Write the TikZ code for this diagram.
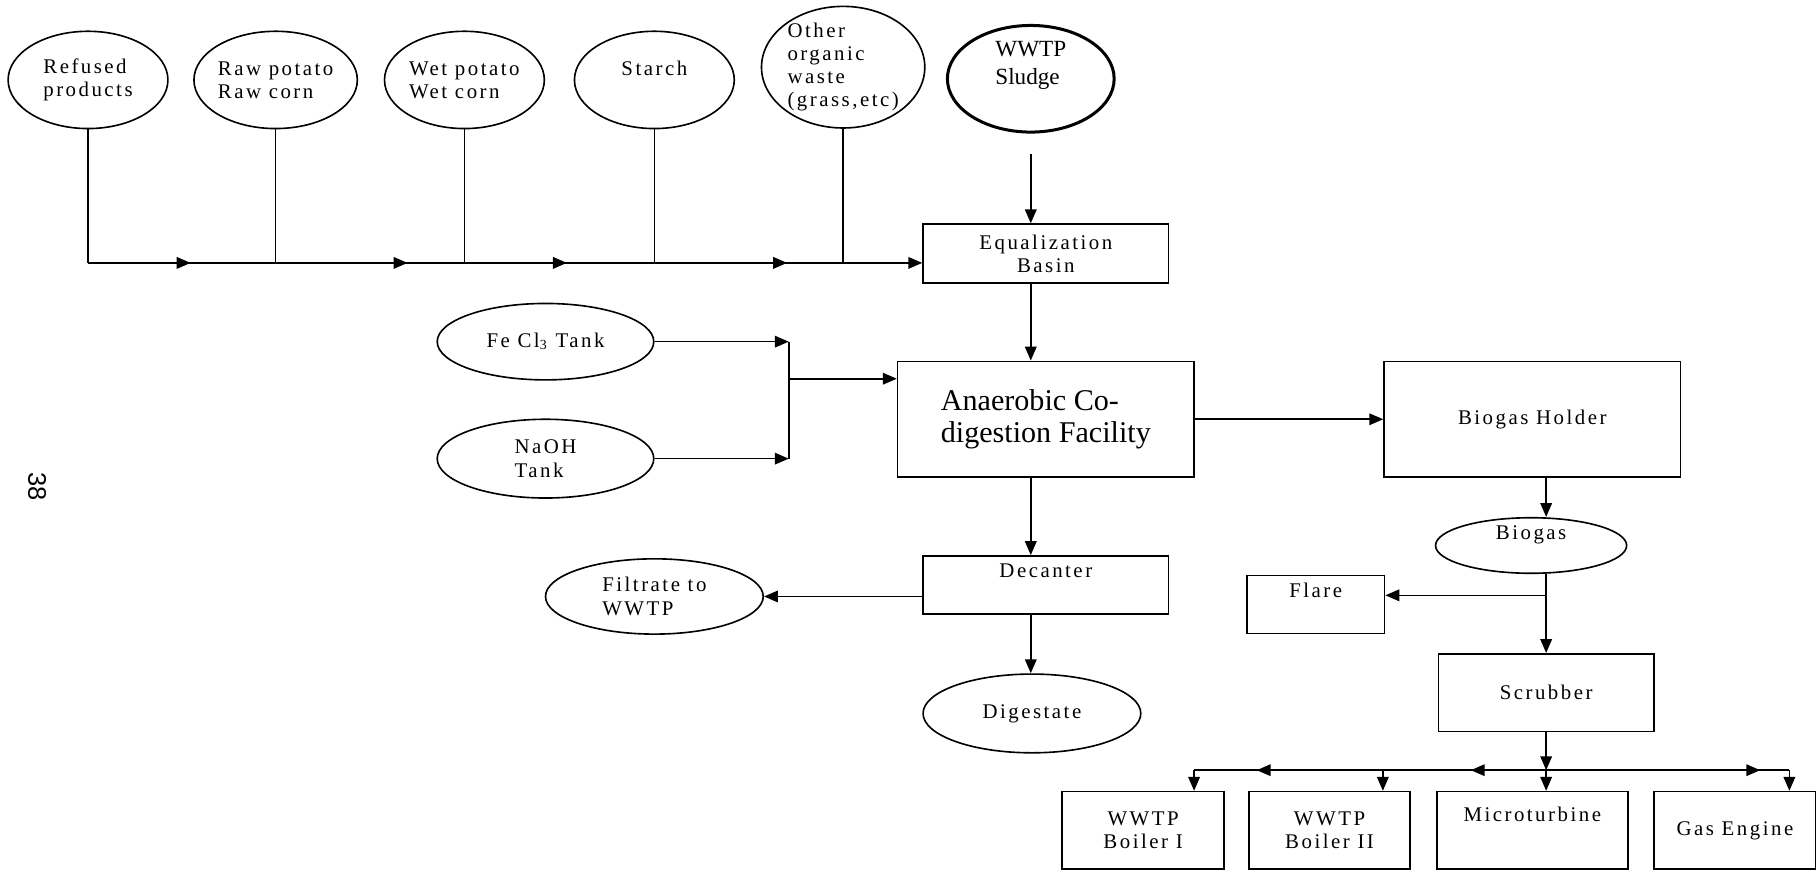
\documentclass[tikz,border=0pt]{standalone}
\usepackage{fontspec}
\setmainfont[LetterSpace=12]{Liberation Serif}
\newfontfamily\plainfont{Liberation Serif}
\newfontfamily\pagefont{Liberation Sans}
\usepackage{tikz}
\usetikzlibrary{shapes.geometric, arrows.meta, decorations.markings}

\tikzset{
  feed/.style={ellipse, draw, line width=0.7pt, minimum width=69pt, minimum height=42pt, inner sep=0pt, align=left},
  unit/.style={rectangle, draw, line width=0.7pt, inner sep=0pt, align=center},
  pipe/.style={line width=0.7pt},
  flow/.style={pipe, -{Triangle[length=6pt,width=5pt]}},
}

\begin{document}
\begin{tikzpicture}[x=0.5pt, y=-0.5pt, font=\fontsize{9}{10}\selectfont]
\useasboundingbox (0,0) rectangle (1568,751);

% feed stocks
\foreach \name/\x/\txt in {refused/76/{Refused\\products}, rawp/238/{Raw potato\\Raw corn}, wetp/401/{Wet potato\\Wet corn}, starch/565/{Starch\\~}}{
\node[feed] (\name) at (\x,69) {\txt};
}
\node[feed, minimum width=70.5pt, minimum height=52.5pt, inner sep=-7pt] (other) at (728,58) {Other\\organic\\waste\\(grass,etc)};
\node[feed, minimum width=72pt, line width=1.3pt, font=\plainfont\fontsize{10}{12}\selectfont] (sludge) at (890,68) {WWTP\\Sludge\\[2pt]~};

% process line
\node[unit, minimum width=106pt, minimum height=25.5pt] (eq) at (903,219) {Equalization\\Basin};
\node[unit, minimum width=128pt, minimum height=50pt, align=left, font=\plainfont\fontsize{13}{14}\selectfont] (acf) at (903,362) {Anaerobic Co-\\digestion Facility};
\node[feed, minimum width=93.5pt, minimum height=33pt] (fecl) at (471,295) {Fe Cl\textsubscript{3} Tank};
\node[feed, minimum width=93.5pt, minimum height=34pt] (naoh) at (471,396) {NaOH\\Tank};
\node[unit, minimum width=106pt, minimum height=25pt] (decanter) at (903,505) {Decanter\\[2pt]~};
\node[feed, minimum width=94pt, minimum height=32.5pt] (filtrate) at (565,515) {Filtrate to\\WWTP};
\node[feed, minimum width=94pt, minimum height=34pt] (digestate) at (891,616) {Digestate};

% gas line
\node[unit, minimum width=128pt, minimum height=50pt] (holder) at (1323,362) {Biogas Holder};
\node[feed, minimum width=82.5pt, minimum height=23.5pt] (biogas) at (1322,471) {Biogas\\[1pt]~};
\node[unit, minimum width=59.5pt, minimum height=25pt] (flare) at (1136,522) {Flare\\[2pt]~};
\node[unit, minimum width=93pt, minimum height=33.5pt] (scrubber) at (1335,598) {Scrubber};
\foreach \name/\x/\w/\txt in {boiler1/987/70/{WWTP\\Boiler I}, boiler2/1148/69.5/{WWTP\\Boiler II}, micro/1323/82.5/{Microturbine\\[4pt]~}, engine/1498/70/{Gas Engine}}{
\node[unit, minimum width=\w pt, minimum height=33.5pt] (\name) at (\x,717) {\txt};
}

\node[font=\pagefont\fontsize{11}{13}\selectfont, rotate=-90] (page) at (32,420) {38};

% feeds to basin
\coordinate (busend) at ([yshift=-4pt]eq.west);
\foreach \name in {refused, rawp, wetp, starch, other}
\draw[pipe] (\name.south) -- (\name.south |- busend);
\draw[flow, postaction={decorate}, decoration={markings,
  mark=at position 0.123 with {\arrow{Triangle[length=6pt,width=5pt]}},
  mark=at position 0.383 with {\arrow{Triangle[length=6pt,width=5pt]}},
  mark=at position 0.574 with {\arrow{Triangle[length=6pt,width=5pt]}},
  mark=at position 0.838 with {\arrow{Triangle[length=6pt,width=5pt]}}}]
  (refused.south |- busend) -- (busend);

% main axis
\coordinate (mainx) at (890,0);
\draw[flow] ([yshift=-9pt]sludge.south) -- (mainx |- eq.north);
\draw[flow] (mainx |- eq.south) -- (mainx |- acf.north);
\draw[flow] (mainx |- acf.south) -- (mainx |- decanter.north);
\draw[flow] (mainx |- decanter.south) -- (mainx |- digestate.north);
\draw[flow] (decanter.west |- filtrate) -- (filtrate);

% chemicals
\coordinate (dose) at (681,327);
\draw[flow] (fecl) -- (fecl -| dose);
\draw[flow] (naoh) -- (naoh -| dose);
\draw[pipe] (fecl -| dose) -- (naoh -| dose);
\draw[flow] (dose) -- (dose -| acf.west);

% biogas
\draw[flow] (acf) -- (holder);
\coordinate (gasx) at (1335,0);
\coordinate (flarejoin) at (1335,514);
\draw[flow] (gasx |- holder.south) -- (gasx |- biogas.north);
\draw[flow] (gasx |- biogas.south) -- (gasx |- scrubber.north);
\draw[flow] (flarejoin) -- (flarejoin -| flare.east);

% distribution
\coordinate (split) at (1335,665);
\coordinate (b1) at (1031,665);
\coordinate (b2) at (1194,665);
\coordinate (b4) at (1545,665);
\draw[flow] (gasx |- scrubber.south) -- (split);
\draw[flow] (split) -- (split |- micro.north);
\draw[pipe, postaction={decorate}, decoration={markings,
  mark=at position 0.214 with {\arrow{Triangle[length=6pt,width=5pt]}},
  mark=at position 0.822 with {\arrow{Triangle[length=6pt,width=5pt]}}}]
  (split) -- (b1);
\draw[pipe, postaction={decorate}, decoration={markings,
  mark=at position 0.88 with {\arrow{Triangle[length=6pt,width=5pt]}}}]
  (split) -- (b4);
\draw[flow] (b1) -- (b1 |- boiler1.north);
\draw[flow] (b2) -- (b2 |- boiler2.north);
\draw[flow] (b4) -- (b4 |- engine.north);
\end{tikzpicture}
\end{document}
